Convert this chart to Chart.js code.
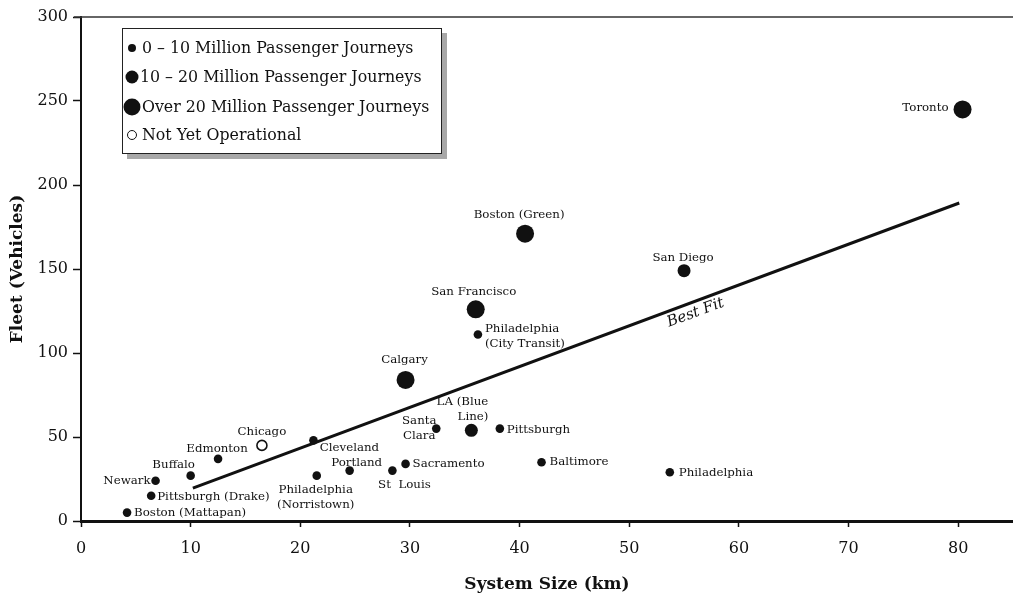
<!DOCTYPE html>
<html>
<head>
<meta charset="utf-8">
<script src="https://cdn.jsdelivr.net/npm/chart.js@4"></script>
<style>
  body { margin: 0; background: #fff; }
  #wrap { position: relative; width: 1013px; height: 601px; }
  #legendBox {
    position: absolute; left: 122px; top: 28px; width: 318px; height: 124px;
    border: 1.5px solid #222; background: #fff;
    box-shadow: 5px 5px 0 #a8a8a8;
    font-family: "DejaVu Serif", serif; font-size: 15.8px; color: #111;
  }
  .row { position: absolute; left: 0; height: 20px; line-height: 20px; white-space: nowrap; }
  .mk { position: absolute; top: 50%; transform: translate(-50%, -50%); border-radius: 50%; background: #111; }
  .row span.txt { position: absolute; left: 18px; }
</style>
</head>
<body>
<div id="wrap">
  <canvas id="chart" width="1013" height="601"></canvas>
  <div id="legendBox"></div>
</div>
<script>
document.addEventListener("DOMContentLoaded", () => {
    // --- data ---
    const cityNames = [
        "Boston (Mattapan)", "Pittsburgh (Drake)", "Newark", "Buffalo", "Edmonton",
        "Chicago", "Cleveland", "Philadelphia\n(Norristown)", "Portland", "St  Louis",
        "Sacramento", "Santa\nClara", "LA (Blue\nLine)", "Pittsburgh", "Baltimore",
        "Philadelphia", "Calgary", "Philadelphia\n(City Transit)", "San Francisco",
        "Boston (Green)", "San Diego", "Toronto"
    ];
    const systemKm = [
        4.2, 6.4, 6.8, 10.0, 12.5,
        16.5, 21.2, 21.5, 24.5, 28.4,
        29.6, 32.4, 35.6, 38.2, 42.0,
        53.7, 29.6, 36.2, 36.0,
        40.5, 55.0, 80.4
    ];
    const fleetVehicles = [
        5, 15, 24, 27, 37,
        45, 48, 27, 30, 30,
        34, 55, 54, 55, 35,
        29, 84, 111, 126,
        171, 149, 245
    ];
    // ridership class: 0 = 0-10M, 1 = 10-20M, 2 = over 20M, 3 = not yet operational
    const ridershipClass = [
        0, 0, 0, 0, 0,
        3, 0, 0, 0, 0,
        0, 0, 1, 0, 0,
        0, 2, 0, 2,
        2, 1, 2
    ];
    const classNames = [
        "0 \u2013 10 Million Passenger Journeys",
        "10 \u2013 20 Million Passenger Journeys",
        "Over 20 Million Passenger Journeys",
        "Not Yet Operational"
    ];
    const bestFitKm = [10.2, 80.1];
    const bestFitFleet = [19.6, 189.3];
    const xTicks = [0, 10, 20, 30, 40, 50, 60, 70, 80];
    const yTicks = [0, 50, 100, 150, 200, 250, 300];

    // label placement next to each point: [dx, dy, align]
    const labelPlace = {
        "Boston (Mattapan)": [7, 0, "left"],
        "Pittsburgh (Drake)": [6, 1, "left"],
        "Newark": [-5, 0, "right"],
        "Buffalo": [-17, -11, "center"],
        "Edmonton": [-1, -10, "center"],
        "Chicago": [0, -13, "center"],
        "Cleveland": [36, 8, "center"],
        "Philadelphia\n(Norristown)": [-1, 14, "center"],
        "Portland": [7, -8, "center"],
        "St  Louis": [12, 14, "center"],
        "Sacramento": [7, 0, "left"],
        "Santa\nClara": [-17, -8, "center"],
        "LA (Blue\nLine)": [17, -28, "right"],
        "Pittsburgh": [7, 1, "left"],
        "Baltimore": [8, 0, "left"],
        "Philadelphia": [9, 1, "left"],
        "Calgary": [-1, -20, "center"],
        "Philadelphia\n(City Transit)": [7, -6, "left"],
        "San Francisco": [-2, -17, "center"],
        "Boston (Green)": [-6, -19, "center"],
        "San Diego": [-1, -13, "center"],
        "Toronto": [-14, -1, "right"]
    };

    const ink = "#111";
    const serif = "'DejaVu Serif', serif";
    const radii = [4.3, 6.5, 9, 5];

    const datasets = classNames.map((name, c) => {
        const idx = ridershipClass.map((k, i) => k === c ? i : -1).filter(i => i >= 0);
        return {
            type: "scatter",
            label: name,
            data: idx.map(i => ({ x: systemKm[i], y: fleetVehicles[i], name: cityNames[i] })),
            pointRadius: radii[c],
            pointHoverRadius: radii[c],
            backgroundColor: c === 3 ? "#fff" : ink,
            borderColor: ink,
            borderWidth: c === 3 ? 1.6 : 0
        };
    });
    datasets.unshift({
        type: "line",
        label: "Best Fit",
        data: bestFitKm.map((x, i) => ({ x, y: bestFitFleet[i] })),
        borderColor: ink,
        borderWidth: 3,
        pointRadius: 0,
        fill: false
    });

    // point labels, best fit label and top frame line
    const annotate = {
        id: "annotate",
        afterDatasetsDraw(chart) {
            const { ctx, chartArea } = chart;
            ctx.save();
            ctx.strokeStyle = "#333";
            ctx.lineWidth = 1.5;
            ctx.beginPath();
            ctx.moveTo(chartArea.left - 7, chartArea.top);
            ctx.lineTo(chartArea.right, chartArea.top);
            ctx.stroke();

            ctx.fillStyle = ink;
            ctx.font = "11.8px " + serif;
            ctx.textBaseline = "middle";
            chart.data.datasets.forEach((ds, di) => {
                if (ds.type !== "scatter") return;
                chart.getDatasetMeta(di).data.forEach((el, j) => {
                    const name = ds.data[j].name;
                    const [dx, dy, align] = labelPlace[name] || [8, 0, "left"];
                    ctx.textAlign = align;
                    name.split("\n").forEach((line, k) => {
                        ctx.fillText(line, el.x + dx, el.y + dy + k * 15);
                    });
                });
            });

            // "Best Fit" text along the line
            const xs = chart.scales.x, ys = chart.scales.y;
            const x1 = xs.getPixelForValue(bestFitKm[0]), y1 = ys.getPixelForValue(bestFitFleet[0]);
            const x2 = xs.getPixelForValue(bestFitKm[1]), y2 = ys.getPixelForValue(bestFitFleet[1]);
            const ang = Math.atan2(y2 - y1, x2 - x1);
            const t = (55.7 - bestFitKm[0]) / (bestFitKm[1] - bestFitKm[0]);
            ctx.translate(x1 + (x2 - x1) * t, y1 + (y2 - y1) * t);
            ctx.rotate(ang);
            ctx.font = "italic 15px " + serif;
            ctx.textAlign = "center";
            ctx.fillText("Best Fit", 0, 11);
            ctx.restore();
        }
    };

    const ctx = document.getElementById("chart").getContext("2d");
    new Chart(ctx, {
        data: { datasets },
        options: {
            responsive: false,
            animation: false,
            layout: { autoPadding: false, padding: { top: 17, right: 0, left: 0, bottom: 0 } },
            plugins: { legend: { display: false }, tooltip: { enabled: false } },
            scales: {
                x: {
                    type: "linear",
                    min: 0,
                    max: 85,
                    afterBuildTicks: s => { s.ticks = xTicks.map(v => ({ value: v })); },
                    afterFit: s => { s.height = 80; },
                    ticks: { color: ink, font: { family: serif, size: 16 }, padding: 12 },
                    grid: { drawOnChartArea: false, tickLength: 6, tickWidth: 1.5, tickColor: ink },
                    border: { color: ink, width: 3 },
                    title: {
                        display: true, text: "System Size (km)", color: ink,
                        font: { family: serif, size: 17, weight: "bold" },
                        padding: { top: 8, bottom: 6 }
                    }
                },
                y: {
                    type: "linear",
                    min: 0,
                    max: 300,
                    afterBuildTicks: s => { s.ticks = yTicks.map(v => ({ value: v })); },
                    afterFit: s => { s.width = 81; },
                    ticks: { color: ink, font: { family: serif, size: 16 }, padding: 5 },
                    grid: { drawOnChartArea: false, tickLength: 8, tickWidth: 1.5, tickColor: ink },
                    border: { color: ink, width: 2 },
                    title: {
                        display: true, text: "Fleet (Vehicles)", color: ink,
                        font: { family: serif, size: 17, weight: "bold" },
                        padding: { top: 7, bottom: 8 }
                    }
                }
            }
        },
        plugins: [annotate]
    });

    // legend box
    const legendBox = document.getElementById("legendBox");
    const rowTops = [9, 38, 68, 96];
    const mkSizes = [8, 13, 17, 10];
    classNames.forEach((name, c) => {
        const row = document.createElement("div");
        row.className = "row";
        row.style.top = rowTops[c] + "px";
        row.style.left = "8px";
        const mk = document.createElement("span");
        mk.className = "mk";
        mk.style.left = "0px";
        mk.style.marginLeft = "1px";
        mk.style.width = mkSizes[c] + "px";
        mk.style.height = mkSizes[c] + "px";
        if (c === 3) {
            mk.style.background = "#fff";
            mk.style.border = "1.6px solid " + ink;
            mk.style.boxSizing = "border-box";
        }
        const txt = document.createElement("span");
        txt.className = "txt";
        txt.style.left = (c === 1 ? 9 : 11) + "px";
        txt.textContent = name;
        row.appendChild(mk);
        row.appendChild(txt);
        legendBox.appendChild(row);
    });
});
</script>
</body>
</html>
